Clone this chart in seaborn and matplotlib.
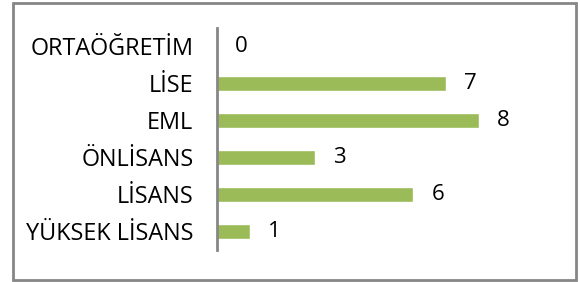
import matplotlib
matplotlib.use("Agg")
import matplotlib.pyplot as plt
import seaborn as sns
from matplotlib.patches import Rectangle

# data
categories = ["ORTAÖĞRETİM", "LİSE", "EML", "ÖNLİSANS", "LİSANS", "YÜKSEK LİSANS"]
values = [0, 7, 8, 3, 6, 1]

sns.set_style("white")
plt.rcParams['font.family'] = ['Open Sans', 'DejaVu Sans']

fig = plt.figure(figsize=(5.8, 2.82), dpi=100)
ax = fig.add_axes([217 / 580, 32 / 282, 327 / 580, 222 / 282])

sns.barplot(x=values, y=categories, orient="h", color="#9BBB59",
            width=0.39, saturation=1, ax=ax)

ax.set_xlim(0, 10)
ax.set_ylim(5.5, -0.5)

# value labels next to bars
for c in ax.containers:
    ax.bar_label(c, labels=[str(v) for v in values], padding=13, fontsize=16, color="black")

for s in ["top", "right", "bottom"]:
    ax.spines[s].set_visible(False)
ax.spines["left"].set_color("#868686")
ax.spines["left"].set_linewidth(2)
ax.set_xticks([])
ax.tick_params(axis="y", length=0, pad=17, labelsize=16.8, colors="black")
ax.set_xlabel("")
ax.set_ylabel("")

# outer frame
fig.patches.append(Rectangle((13 / 580, 2 / 282), 563 / 580, 277 / 282,
                             transform=fig.transFigure, fill=False,
                             edgecolor="#868686", linewidth=2))

fig.savefig("out.png", dpi=100)
